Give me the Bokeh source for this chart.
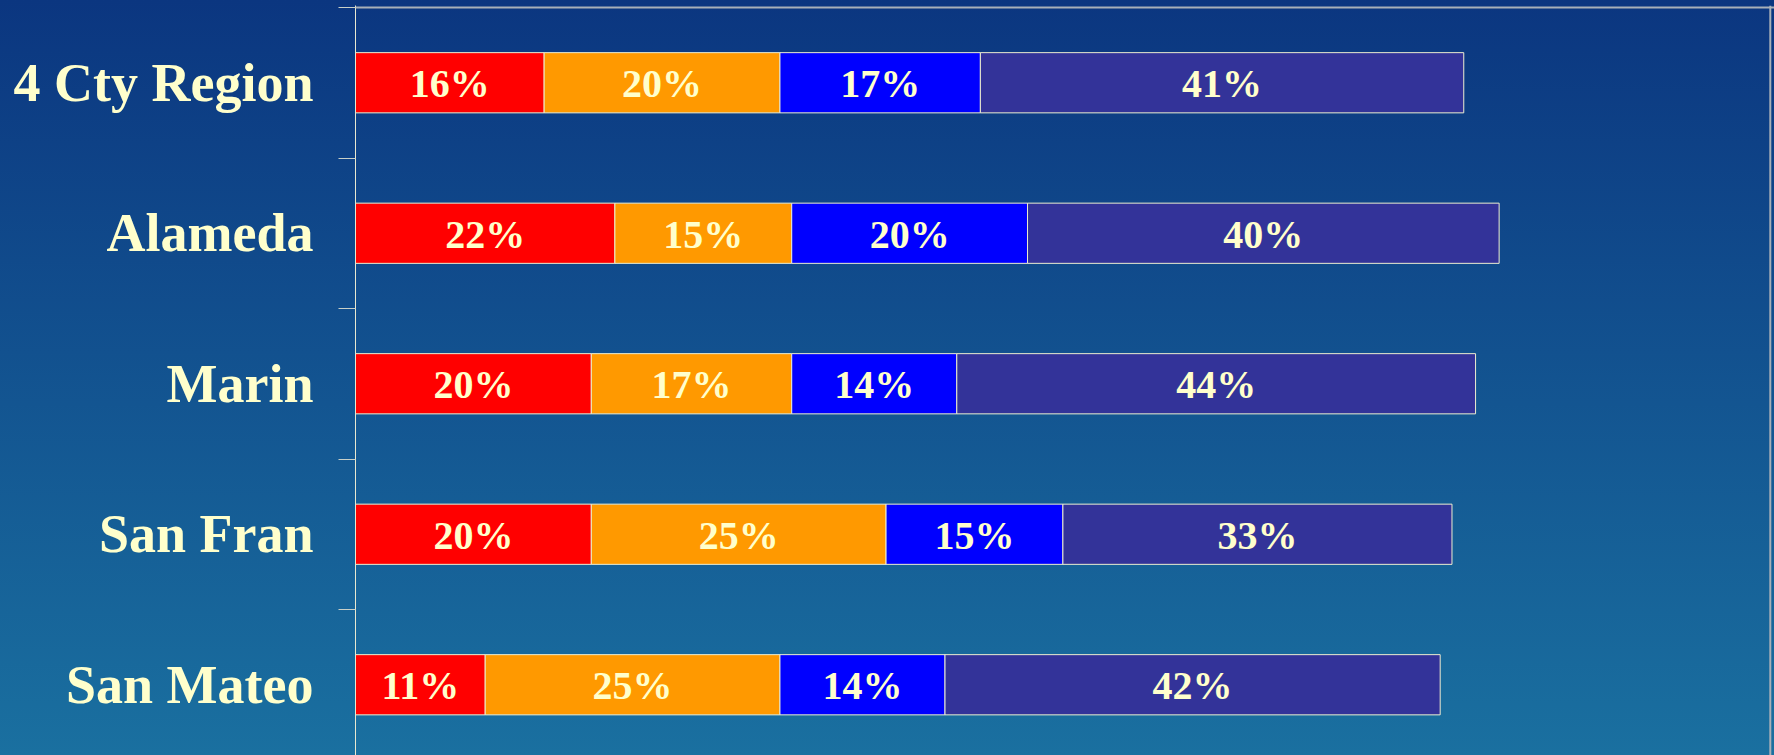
import numpy as np
from bokeh.plotting import figure
from bokeh.models import (Range1d, FixedTicker, ColumnDataSource, Span,
                          GlobalInlineStyleSheet)
from bokeh.core.properties import value
from bokeh.embed import file_html
from bokeh.resources import INLINE

# ---- data ----
regions = ["4 Cty Region", "Alameda", "Marin", "San Fran", "San Mateo"]
seg1 = [16, 22, 20, 20, 11]   # red
seg2 = [20, 15, 17, 25, 25]   # orange
seg3 = [17, 20, 14, 15, 14]   # blue
seg4 = [41, 40, 44, 33, 42]   # purple
seg_colors = ["#FF0000", "#FF9900", "#0000FF", "#333399"]

LABEL = "#FFFFCC"
FONT = "Liberation Serif"

W, H = 1774, 755
BL, BT = 355, 5
PX_PER_PCT = 11.79
PX_PER_BAND = 150.5
frame_w = W - BL
frame_h = H - BT
x_end = frame_w / PX_PER_PCT
y_top = -0.5 - 2 / PX_PER_BAND
y_bot = y_top + frame_h / PX_PER_BAND

p = figure(width=W, height=H, output_backend="svg", toolbar_location=None,
           x_range=Range1d(0, x_end), y_range=Range1d(y_bot, y_top),
           min_border_left=BL, min_border_right=0, min_border_top=BT,
           min_border_bottom=0, x_axis_location=None, y_axis_location="left")
p.background_fill_color = None
p.border_fill_color = None
p.outline_line_color = None
p.grid.visible = False
p.styles = {"background": "linear-gradient(to bottom, #0b3680, #1a70a0)"}
p.stylesheets = [GlobalInlineStyleSheet(
    css="html{background:linear-gradient(to bottom,#0b3680,#1a70a0) no-repeat;min-height:100%;}"
        "body{background:transparent;}")]

# stacked bars
idx = np.arange(len(regions))
segs = [np.array(seg1), np.array(seg2), np.array(seg3), np.array(seg4)]
left = np.zeros(len(regions))
for vals, col in zip(segs, seg_colors):
    right = left + vals
    src = ColumnDataSource(dict(y=idx, left=left, right=right,
                                xc=(left + right) / 2,
                                lab=[f"{v}%" for v in vals]))
    p.hbar(y="y", left="left", right="right", height=0.4, source=src,
           fill_color=col, line_color="#EEEED0", line_width=1)
    p.text(x="xc", y="y", text="lab", source=src, text_font=value(FONT),
           text_font_style="bold", text_font_size="40px", text_color=LABEL,
           text_align="center", text_baseline="middle", y_offset=1)
    left = right

# frame lines (top and right)
p.add_layout(Span(location=-0.5, dimension="width", line_color="#A8B0B8",
                  line_width=2))
p.add_layout(Span(location=120, dimension="height",
                  line_color="#A8B0B8", line_width=2))

# left axis: labels at centres, tick marks at boundaries
ax = p.yaxis[0]
ax.ticker = FixedTicker(ticks=list(idx),
                        minor_ticks=[i + 0.5 for i in range(-1, len(regions))])
ax.major_label_overrides = {int(i): r for i, r in zip(idx, regions)}
ax.major_tick_out = 0
ax.major_tick_in = 0
ax.minor_tick_out = 17
ax.minor_tick_in = 0
ax.minor_tick_line_color = "#C8D0C8"
ax.axis_line_color = "#E8E8D0"
ax.axis_line_width = 1
ax.major_label_standoff = 25
ax.major_label_text_font = FONT
ax.major_label_text_font_style = "bold"
ax.major_label_text_font_size = "54px"
ax.major_label_text_color = LABEL

open("out.html", "w").write(file_html(p, INLINE))
